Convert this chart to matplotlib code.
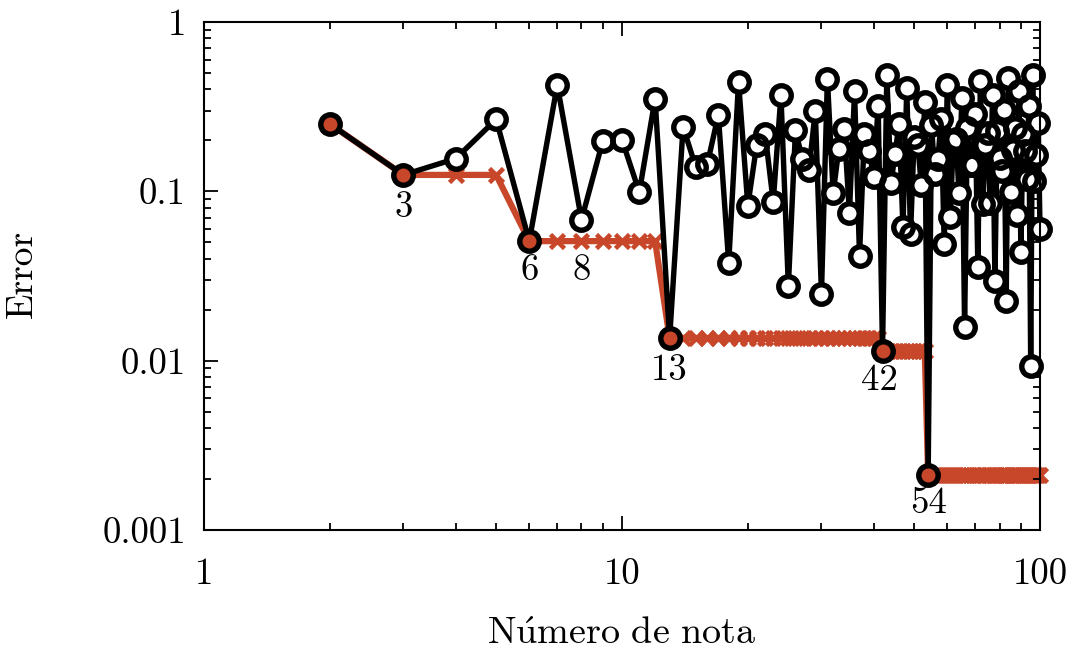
import matplotlib.pyplot as plt
import numpy as np

plt.rcParams['font.family'] = 'cmr10'
plt.rcParams['mathtext.fontset'] = 'cm'
plt.rcParams['axes.formatter.use_mathtext'] = True

# Data
nota = np.arange(2, 101)
error = [0.25, 0.125, 0.156, 0.266, 0.0508, 0.424, 0.0679, 0.199, 0.201,
         0.099, 0.352, 0.0136, 0.240, 0.140, 0.145, 0.283, 0.0378, 0.443, 0.0824,
         0.188, 0.218, 0.0867, 0.370, 0.0275, 0.229, 0.156, 0.133, 0.300, 0.0247,
         0.463, 0.0972, 0.177, 0.234, 0.0742, 0.389, 0.0415, 0.219, 0.172, 0.121,
         0.318, 0.0114, 0.483, 0.112, 0.166, 0.251, 0.0616, 0.408, 0.0557, 0.208,
         0.188, 0.109, 0.336, 0.0021, 0.248, 0.127, 0.155, 0.268, 0.0488, 0.427,
         0.0701, 0.197, 0.204, 0.0971, 0.354, 0.0158, 0.238, 0.143, 0.143, 0.286,
         0.0358, 0.446, 0.0847, 0.187, 0.220, 0.0848, 0.373, 0.0296, 0.228, 0.158,
         0.131, 0.303, 0.0226, 0.466, 0.0995, 0.175, 0.237, 0.0723, 0.392, 0.0437,
         0.217, 0.174, 0.119, 0.321, 0.0093, 0.486, 0.115, 0.164, 0.254, 0.0596]
error = np.array(error)
mejor = np.minimum.accumulate(error)  # best error so far
etiquetas = [3, 6, 8, 13, 42, 54]
desplaz = [(0, -32), (0, -29), (0, -29), (0, -32), (-3, -29), (0, -28)]

rojo = '#c8472b'

fig = plt.figure(figsize=(10.68, 6.52), dpi=100)
ax = fig.add_axes([0.191, 0.1871, 0.7828, 0.7792])

ax.plot(nota, mejor, color=rojo, lw=4.5, marker='x', ms=9.5, mew=3.3, zorder=1.5, clip_on=False)
ax.plot(nota, error, color='black', lw=3.9, zorder=2, clip_on=False)
ax.plot(nota, error, 'o', ms=11, mfc='white', mec='none', zorder=2.5, clip_on=False)
rec = error == mejor
ax.plot(nota[rec], error[rec], 'o', ms=11, mfc=rojo, mec='none', zorder=2.6, clip_on=False)
ax.plot(nota, error, 'o', ms=14, mfc='none', mec='black', mew=3.9, zorder=4, clip_on=False)

for n, (dx, dy) in zip(etiquetas, desplaz):
    ax.annotate(str(n), (n, mejor[n - 2]), xytext=(dx, dy), textcoords='offset pixels',
                ha='center', va='center', fontsize=26.5)

ax.set_xscale('log')
ax.set_yscale('log')
ax.set_xlim(1, 100)
ax.set_ylim(0.001, 1)
ax.set_xticks([1, 10, 100])
ax.set_xticklabels(['1', '10', '100'])
ax.set_yticks([0.001, 0.01, 0.1, 1])
ax.set_yticklabels(['0.001', '0.01', '0.1', '1'])
ax.tick_params(which='both', direction='in', top=True, right=True, labelsize=26.5, width=1.3)
ax.tick_params(which='major', length=10)
ax.tick_params(which='minor', length=5)
ax.tick_params(axis='x', which='major', pad=20)
ax.tick_params(axis='y', which='major', pad=13)
for s in ax.spines.values():
    s.set_linewidth(1.5)

fig.text(622 / 1068, 1 - 644 / 652, r'$\mathrm{N\acute{u}mero\ de\ nota}$', fontsize=27.5,
         ha='center', va='baseline')
fig.text(22 / 1068, 1 - 274 / 652, 'Error', fontsize=27, rotation=90, ha='center', va='center')

fig.savefig('out.png', dpi=100)
